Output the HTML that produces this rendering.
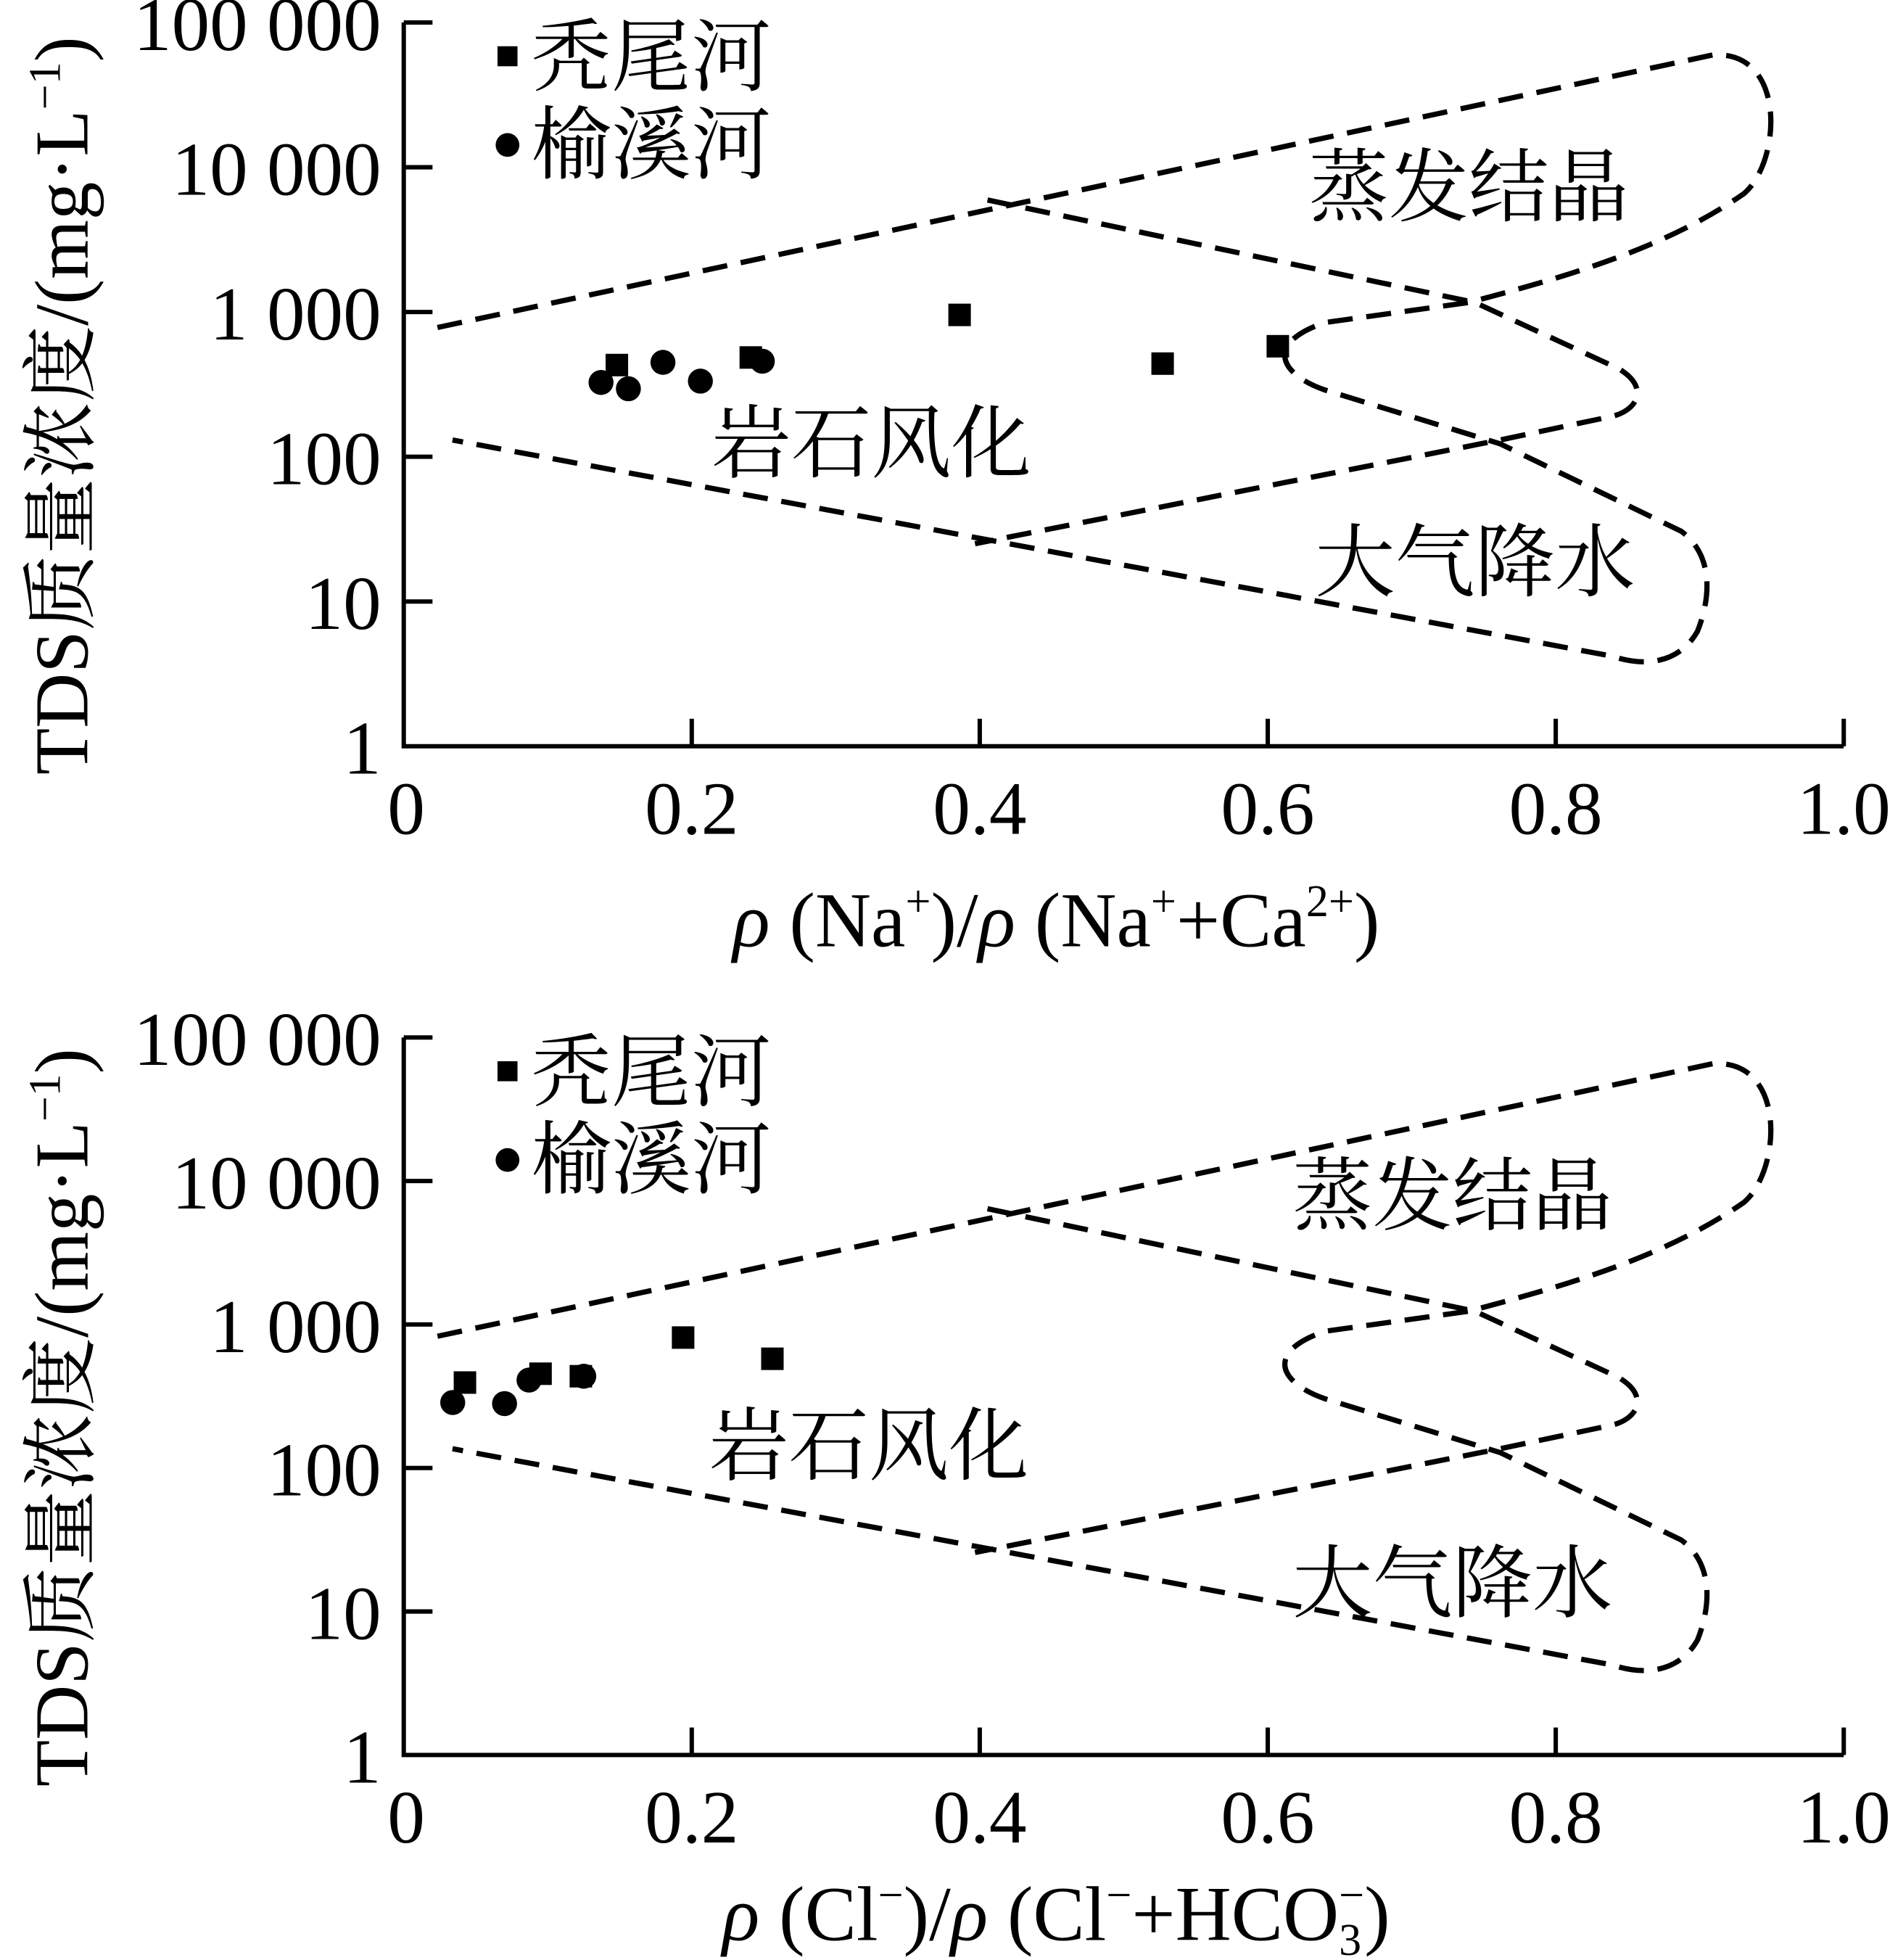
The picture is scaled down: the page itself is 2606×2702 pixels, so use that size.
<!DOCTYPE html>
<html><head><meta charset="utf-8"><style>
html,body{margin:0;padding:0;background:#fff}
svg{display:block}
text{font-family:"Liberation Serif","Noto Serif CJK SC",serif;fill:#000}
.cn{font-family:"Liberation Serif","Noto Serif CJK SC",serif}
</style></head><body>
<svg id="fig" width="2606" height="2702" viewBox="0 0 1512 1568" preserveAspectRatio="none" xmlns="http://www.w3.org/2000/svg"></svg>
<script>
const xTicks=[0,0.2,0.4,0.6,0.8,1.0];
const xTickLabels=["0","0.2","0.4","0.6","0.8","1.0"];
const yTicks=[1,10,100,1000,10000,100000];
const yTickLabels=["1","10","100","1 000","10 000","100 000"];
// top chart data
const topSqX=[0.148,0.241,0.386,0.527,0.607];
const topSqY=[430,485,955,440,580];
const topCiX=[0.137,0.156,0.180,0.206,0.249];
const topCiY=[326,295,449,333,457];
// bottom chart data
const botSqX=[0.0425,0.095,0.123,0.194,0.256];
const botSqY=[394,454,436,811,577];
const botCiX=[0.034,0.070,0.087,0.125];
const botCiY=[286,281,410,436];

const NS="http://www.w3.org/2000/svg";
const svg=document.getElementById('fig');
function mk(tag,attrs,parent){const e=document.createElementNS(NS,tag);for(const k in attrs)e.setAttribute(k,attrs[k]);(parent||svg).appendChild(e);return e;}

function panel(name,y0,yTop,sqX,sqY,ciX,ciY,titleHTML,lbl,titleDy){
  const g=mk('g',{});
  
  
  const x0=323,x1=1475;
  const sx=v=>x0+v*(x1-x0);
  const dec=(y0-yTop)/5;
  const sy=v=>y0-Math.log10(v)*dec;
  const b=mk('g',{transform:'translate(0,'+(y0-597)+')',fill:'none',stroke:'#000','stroke-width':4.2,'stroke-dasharray':'20,11'},g);
  
  
  mk('path',{d:'M350,262 L1370,44 C1430,40 1425,130 1395,155 C1330,200 1250,222 1175,242 L1060,258 C1010,275 1025,300 1060,312 L1200,355 L1345,425 C1372,445 1368,480 1358,505 C1345,528 1320,535 1290,525 L362,352'},b);
  mk('path',{d:'M790,160 L1180,242 L1295,295 C1320,310 1310,328 1290,333 L1200,352 L780,435'},b);
  const ax=mk('path',{d:`M${x0},${yTop} L${x0},${y0} L${x1},${y0}`,fill:'none',stroke:'#000','stroke-width':3.5},g);
  
  
  xTicks.forEach((v,i)=>{
    if(i>0)mk('line',{x1:sx(v),x2:sx(v),y1:y0,y2:y0-22,stroke:'#000','stroke-width':3.5},g);
    const t=mk('text',{x:sx(v)+(i==0?2:0),y:y0+70,'font-size':60,'text-anchor':'middle'},g);
    t.textContent=xTickLabels[i];
    
    
  });
  yTicks.forEach((v,i)=>{
    if(i>0)mk('line',{x1:x0,x2:x0+23,y1:sy(v),y2:sy(v),stroke:'#000','stroke-width':3.5},g);
    const t=mk('text',{x:305,y:sy(v)+22,'font-size':61,'text-anchor':'end'},g);
    t.textContent=yTickLabels[i];
    
    
  });
  const yt=mk('text',{transform:`translate(70,${(y0+yTop)/2+17}) rotate(-90)`,'font-size':61,'text-anchor':'middle',class:'cn'},g);
  yt.innerHTML='TDS质量浓度/(mg·L<tspan font-size="36" dy="-22">−1</tspan><tspan dy="22">)</tspan>';
  
  
  const xt=mk('text',{x:845,y:y0+titleDy,'font-size':62,'text-anchor':'middle'},g);
  xt.innerHTML=titleHTML;
  
  
  const lg=mk('g',{},g);
  
  
  mk('rect',{x:398,y:yTop+19,width:16,height:16,fill:'#000'},lg);
  let t=mk('text',{x:425,y:yTop+50,'font-size':64,class:'cn'},lg);t.textContent='秃尾河';
  mk('circle',{cx:406,cy:yTop+98,r:9.5,fill:'#000'},lg);
  t=mk('text',{x:425,y:yTop+120,'font-size':64,class:'cn'},lg);t.textContent='榆溪河';
  lbl.forEach(l=>{const r=mk('text',{x:l[1],y:l[2]+(y0-597),'font-size':64,'text-anchor':'middle',class:'cn'},g);r.textContent=l[0];
    
    });
  sqX.forEach((v,i)=>{const r=mk('rect',{x:sx(v)-9,y:sy(sqY[i])-9,width:18,height:18,fill:'#000'},g);
    
    });
  ciX.forEach((v,i)=>{const c=mk('circle',{cx:sx(v),cy:sy(ciY[i]),r:10,fill:'#000'},g);
    
    });
}
panel('chart-na-ratio',597,18,topSqX,topSqY,topCiX,topCiY,
 '<tspan font-style="italic">ρ</tspan> (Na<tspan font-size="36" dy="-24">+</tspan><tspan dy="24">)/</tspan><tspan font-style="italic">ρ</tspan> (Na<tspan font-size="36" dy="-24">+</tspan><tspan dy="24">+Ca</tspan><tspan font-size="36" dy="-24">2+</tspan><tspan dy="24">)</tspan>',
 [['蒸发结晶',1175,172],['岩石风化',697,377],['大气降水',1180,472]],160);
panel('chart-cl-ratio',1404,830,botSqX,botSqY,botCiX,botCiY,
 '<tspan font-style="italic">ρ</tspan> (Cl<tspan font-size="36" dy="-24">−</tspan><tspan dy="24">)/</tspan><tspan font-style="italic">ρ</tspan> (Cl<tspan font-size="36" dy="-24">−</tspan><tspan dy="24">+HCO</tspan><tspan font-size="36" dy="12">3</tspan><tspan font-size="36" dx="-18" dy="-36">−</tspan><tspan dy="24">)</tspan>',
 [['蒸发结晶',1162,172],['岩石风化',695,372],['大气降水',1162,482]],148);
</script>
</body></html>
